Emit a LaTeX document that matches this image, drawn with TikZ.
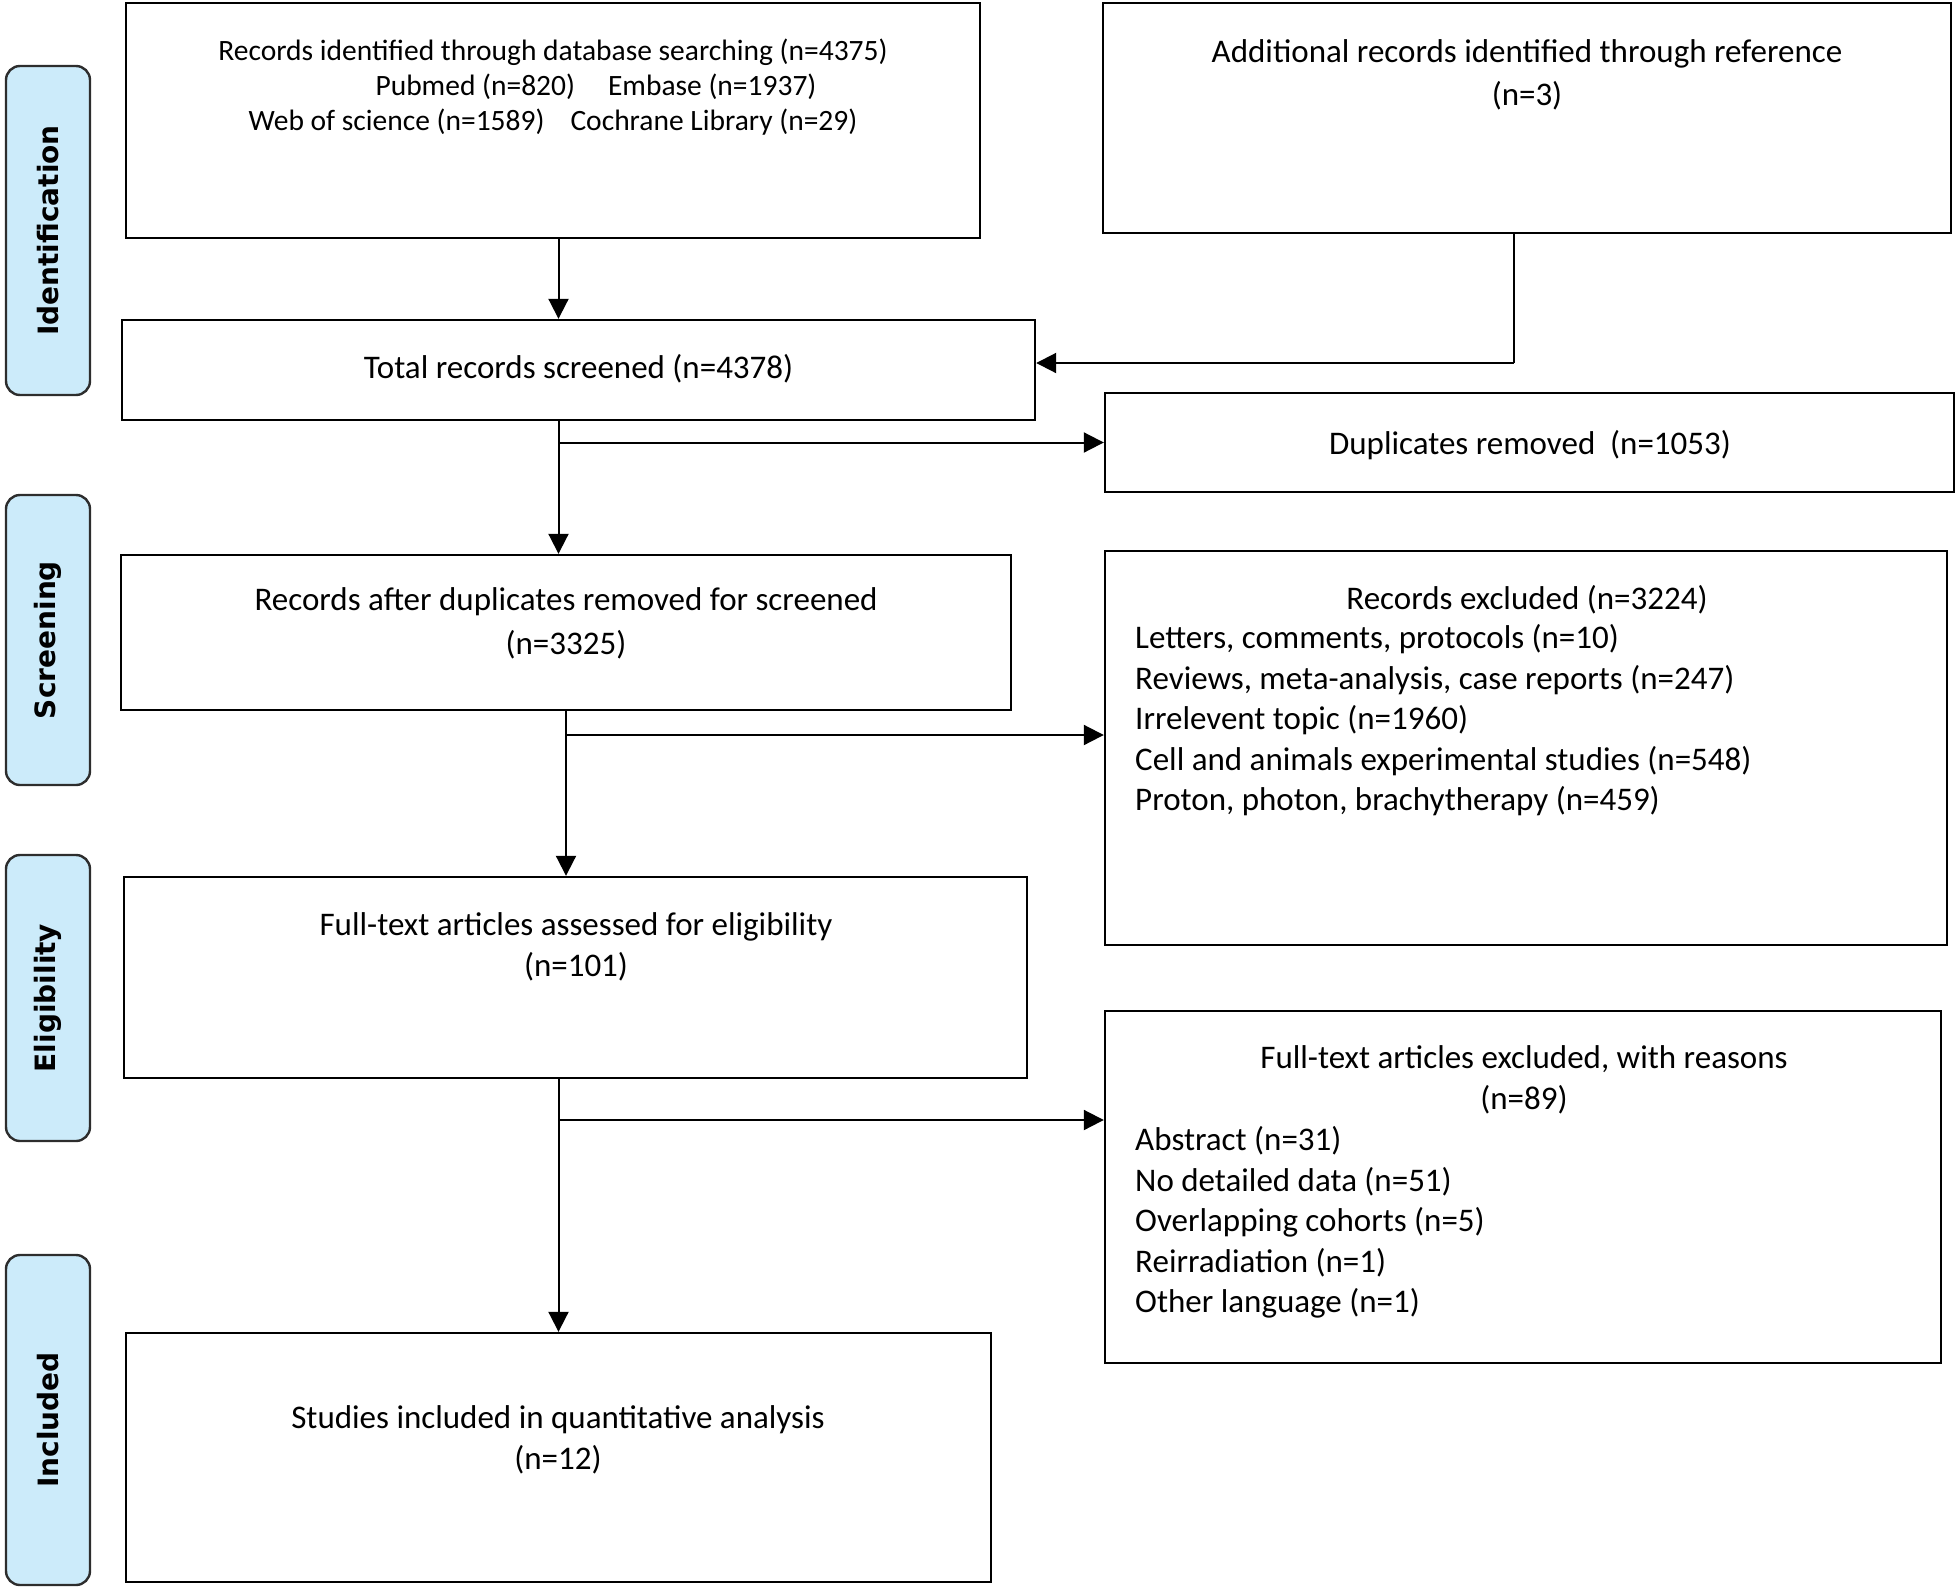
\documentclass[tikz,border=0pt]{standalone}
\usepackage{fontspec}
\setmainfont{Carlito}
\newfontfamily\sidefont{DejaVu Sans}
\usetikzlibrary{arrows.meta,positioning}
\definecolor{sideblue}{RGB}{204,235,250}
\definecolor{sideline}{RGB}{45,45,45}

\begin{document}
\begin{tikzpicture}[x=1pt,y=-1pt,
	box/.style={draw,line width=2.4pt,inner sep=0pt},
	txt/.style={inner sep=0pt,align=center,font=\fontsize{33}{41}\selectfont},
	lst/.style={inner sep=0pt,align=left,anchor=west,font=\fontsize{33}{40.5}\selectfont},
	side/.style={draw=sideline,fill=sideblue,line width=2.4pt,rounded corners=14pt,
		rotate=90,minimum height=84pt,inner sep=0pt,font=\sidefont\bfseries\fontsize{28}{30}\selectfont},
	arr/.style={line width=2pt,-{Triangle[length=20pt,width=20pt]}}]
	\useasboundingbox (0,0) rectangle (1960,1590);

	\node[side,minimum width=329pt] (ident) at (48,230.5) {Identification};
	\node[side,minimum width=290pt] (screen) at (48,640) {Screening};
	\node[side,minimum width=286pt] (elig) at (48,998) {Eligibility};
	\node[side,minimum width=330pt] (incl) at (48,1420) {Included};

	\node[box,minimum width=854pt,minimum height=235pt] (db) at (553,120.5) {};
	\node[box,minimum width=848pt,minimum height=230pt] (extra) at (1527,118) {};
	\node[box,minimum width=913pt,minimum height=100pt] (total) at (578.5,370) {};
	\node[box,minimum width=849pt,minimum height=99pt] (dup) at (1529.5,442.5) {};
	\node[box,minimum width=890pt,minimum height=155pt] (after) at (566,632.5) {};
	\node[box,minimum width=842pt,minimum height=394pt] (recex) at (1526,748) {};
	\node[box,minimum width=903pt,minimum height=201pt] (full) at (575.5,977.5) {};
	\node[box,minimum width=836pt,minimum height=352pt] (fullex) at (1523,1187) {};
	\node[box,minimum width=865pt,minimum height=249pt] (quant) at (558.5,1457.5) {};

	\node[inner sep=0pt,align=center,font=\fontsize{29.5}{35}\selectfont] (dbtxt) at (553,87)
		{Records identified through database searching (n=4375)\\
		\hspace*{86pt}Pubmed (n=820)\hspace{33pt}Embase (n=1937)\\
		Web of science (n=1589)\hspace{26pt}Cochrane Library (n=29)};
	\node[txt,font=\fontsize{33}{43}\selectfont] (extratxt) at (1527,75) {Additional records identified through reference\\(n=3)};
	\node[txt] (totaltxt) at (578.5,369) {Total records screened (n=4378)};
	\node[txt] (duptxt) at (1530,445) {Duplicates removed\ \ (n=1053)};
	\node[txt,font=\fontsize{33}{44}\selectfont] (aftertxt) at (566,623) {Records after duplicates removed for screened\\(n=3325)};
	\node[txt] (recexhead) at (1527,600) {Records excluded (n=3224)};
	\node[lst] (recexlist) at (1135,720.5) {Letters, comments, protocols (n=10)\\
		Reviews, meta-analysis, case reports (n=247)\\
		Irrelevent topic (n=1960)\\
		Cell and animals experimental studies (n=548)\\
		Proton, photon, brachytherapy (n=459)};
	\node[txt] (fulltxt) at (576,947) {Full-text articles assessed for eligibility\\(n=101)};
	\node[txt] (fullexhead) at (1524,1080) {Full-text articles excluded, with reasons\\(n=89)};
	\node[lst] (fullexlist) at (1135,1222.5) {Abstract (n=31)\\
		No detailed data (n=51)\\
		Overlapping cohorts (n=5)\\
		Reirradiation (n=1)\\
		Other language (n=1)};
	\node[txt] (quanttxt) at (558,1440) {Studies included in quantitative analysis\\(n=12)};

	\coordinate (jref) at (1514,363);
	\coordinate (jscr) at (566,735);
	\coordinate (jelg) at (559,1120);

	\draw[arr] (db.south -| quant.north) -- (total.north -| quant.north);
	\draw[line width=2pt] (jref |- extra.south) -- (jref);
	\draw[arr] (jref) -- (jref -| total.east);
	\draw[arr] (total.south -| quant.north) -- (after.north -| quant.north);
	\draw[arr] (dup.west -| quant.north) -- (dup.west);
	\draw[arr] (after.south) -- (after.south |- full.north);
	\draw[arr] (jscr) -- (jscr -| recex.west);
	\draw[arr] (full.south -| quant.north) -- (quant.north);
	\draw[arr] (jelg) -- (jelg -| fullex.west);
\end{tikzpicture}
\end{document}
